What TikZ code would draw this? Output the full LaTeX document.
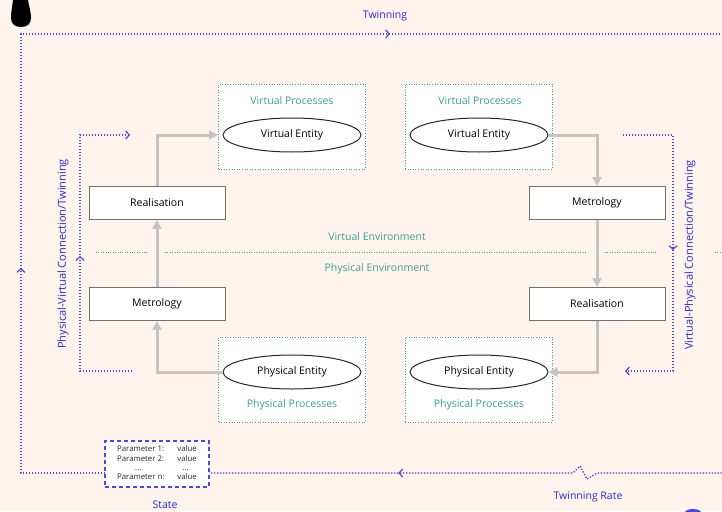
\documentclass[tikz,border=0pt]{standalone}
\usepackage{fontspec}
\setmainfont{Open Sans}
\usetikzlibrary{arrows.meta,decorations.markings,shapes.geometric}

\definecolor{bgpeach}{RGB}{255,244,235}
\definecolor{twinblue}{RGB}{70,70,238}
\definecolor{labelblue}{RGB}{40,40,225}
\definecolor{procteal}{RGB}{55,160,155}
\definecolor{flowgray}{RGB}{196,196,196}
\definecolor{boxgray}{RGB}{112,112,112}

\tikzset{
  twin/.style={draw=twinblue, line width=1.3pt, dash pattern=on 1.4pt off 1.6pt},
  barb/.style={-{Straight Barb[length=3.5pt,width=8pt,line width=1.2pt]}},
  procbox/.style={rectangle, draw=procteal, fill=white, line width=1pt,
    dash pattern=on 1pt off 1.6pt, minimum width=147pt, minimum height=85pt, inner sep=0pt},
  proctitle/.style={text=procteal, font=\fontsize{10.5}{12}\selectfont},
  entity/.style={ellipse, draw=black!85, fill=white, line width=1pt,
    minimum width=138pt, minimum height=34pt, inner sep=0pt, font=\fontsize{10.5}{12}\selectfont},
  stage/.style={rectangle, draw=boxgray, fill=white, line width=0.9pt,
    minimum width=136pt, minimum height=33pt, inner sep=0pt, font=\fontsize{10.5}{12}\selectfont},
  flow/.style={draw=flowgray, line width=3pt, -{Triangle[length=9pt,width=9pt]}},
  envline/.style={draw=procteal, line width=0.8pt, dash pattern=on 0.8pt off 1.6pt},
  bluelabel/.style={text=labelblue, font=\fontsize{10.5}{12}\selectfont},
  statebox/.style={rectangle, draw=twinblue, fill=white, text=black!85, line width=1.1pt,
    dash pattern=on 4pt off 3pt, minimum width=104pt, minimum height=46pt, inner sep=0pt,
    font=\fontsize{7.8}{9.3}\selectfont},
  marks/.style={postaction={decorate}, decoration={markings, #1}}
}

\begin{document}
\begin{tikzpicture}[x=1pt,y=-1pt]
  \useasboundingbox (0,0) rectangle (722,511);
  \clip (0,0) rectangle (722,511);
  \fill[bgpeach] (0,0) rectangle (722,511);

  % ink drop in the corner
  \fill[black] (13,0) .. controls (12,8) and (11,12) .. (11,18)
    .. controls (11,24) and (15,27) .. (21,27)
    .. controls (27,27) and (31,24) .. (31,18)
    .. controls (31,12) and (29,6) .. (28,0) -- cycle;

  % process containers
  \node[procbox] (vp1) at (292,126.5) {};
  \node[procbox] (vp2) at (478.5,126.5) {};
  \node[procbox] (pp1) at (292,379.5) {};
  \node[procbox] (pp2) at (478.5,379.5) {};
  \node[proctitle] (vpt1) at (292,101) {Virtual Processes};
  \node[proctitle] (vpt2) at (480,101) {Virtual Processes};
  \node[proctitle] (ppt1) at (292,405) {Physical Processes};
  \node[proctitle] (ppt2) at (479,405) {Physical Processes};

  % entities
  \node[entity] (ve1) at (292,135) {Virtual Entity};
  \node[entity] (ve2) at (479,135) {Virtual Entity};
  \node[entity] (pe1) at (292,372) {Physical Entity};
  \node[entity] (pe2) at (479,372) {Physical Entity};

  % stages
  \node[stage] (real1) at (157,203) {Realisation};
  \node[stage] (metro1) at (157,304) {Metrology};
  \node[stage] (metro2) at (597,203) {Metrology};
  \node[stage] (real2) at (597,304) {Realisation};

  % environment divider
  \draw[envline] (96,252) -- (148,252);
  \draw[envline] (165,252) -- (587,252);
  \draw[envline] (605,252) -- (657,252);
  \draw[envline] (715,252) -- (722,252);
  \node[text=procteal, font=\fontsize{10.5}{12}\selectfont] (venv) at (377,237) {Virtual Environment};
  \node[text=procteal, font=\fontsize{10.5}{12}\selectfont] (penv) at (377,269) {Physical Environment};

  % process flow
  \draw[flow] (pe1.west) -| (metro1.south);
  \draw[flow] (metro1.north) -- (real1.south);
  \draw[flow] (real1.north) |- (vp1.west |- ve1.west);
  \draw[flow] (ve2.east) -| (metro2.north);
  \draw[flow] (metro2.south) -- (real2.north);
  \draw[flow] (real2.south) |- (pe2.east);

  % state
  \node[statebox] (state) at (157,464) {%
    \begin{tabular}{@{}l@{\hspace{13pt}}l@{}}
      Parameter 1: & value\\
      Parameter 2: & value\\
      \hspace{18pt}... & \hspace{5pt}...\\
      Parameter n: & value
    \end{tabular}};
  \coordinate (stateL) at (105,473);
  \coordinate (stateR) at (209,473);
  \coordinate (edgeR) at (722,473);

  % outer twinning loop
  \draw[twin, marks={mark=at position 289pt with {\arrow[solid]{Straight Barb[length=3.5pt,width=8pt,line width=1.2pt]}},
                     mark=at position 892pt with {\arrow[solid]{Straight Barb[length=3.5pt,width=8pt,line width=1.2pt]}}}]
    (stateL) -- (21,473) -- (21,34) -- (722,34);
  \draw[twin, marks={mark=at position 336pt with {\arrow[solid]{Straight Barb[length=3.5pt,width=8pt,line width=1.2pt]}}}]
    (edgeR) -- (597,473) -- (587,479) -- (580,466) -- (573,473) -- (stateR);

  % physical-to-virtual connection
  \coordinate (pvStart) at (132,371);
  \coordinate (pvEnd) at (130,135);
  \draw[twin, barb, marks={mark=at position 167pt with {\arrow[solid]{Straight Barb[length=3.5pt,width=8pt,line width=1.2pt]}}}]
    (pvStart) -- (80,371) -- (80,135) -- (pvEnd);

  % virtual-to-physical connection
  \coordinate (vpStart) at (623,135);
  \coordinate (vpEnd) at (625,371);
  \draw[twin, barb, marks={mark=at position 165pt with {\arrow[solid]{Straight Barb[length=3.5pt,width=8pt,line width=1.2pt]}}}]
    (vpStart) -- (673,135) -- (673,371) -- (vpEnd);

  % labels
  \node[bluelabel] (twl) at (385,16) {Twinning};
  \node[bluelabel] (trl) at (588,497) {Twinning Rate};
  \node[bluelabel, anchor=base] (stl) at (165,508) {State};
  \node[bluelabel, rotate=90, font=\fontsize{11}{13}\selectfont] (pvl) at (63,254) {Physical-Virtual Connection/Twinning};
  \node[bluelabel, rotate=90, font=\fontsize{11}{13}\selectfont] (vpl) at (690,255) {Virtual-Physical Connection/Twinning};

  % blue dot at the lower edge
  \fill[twinblue] (693,514) ellipse (9 and 5);
\end{tikzpicture}
\end{document}
